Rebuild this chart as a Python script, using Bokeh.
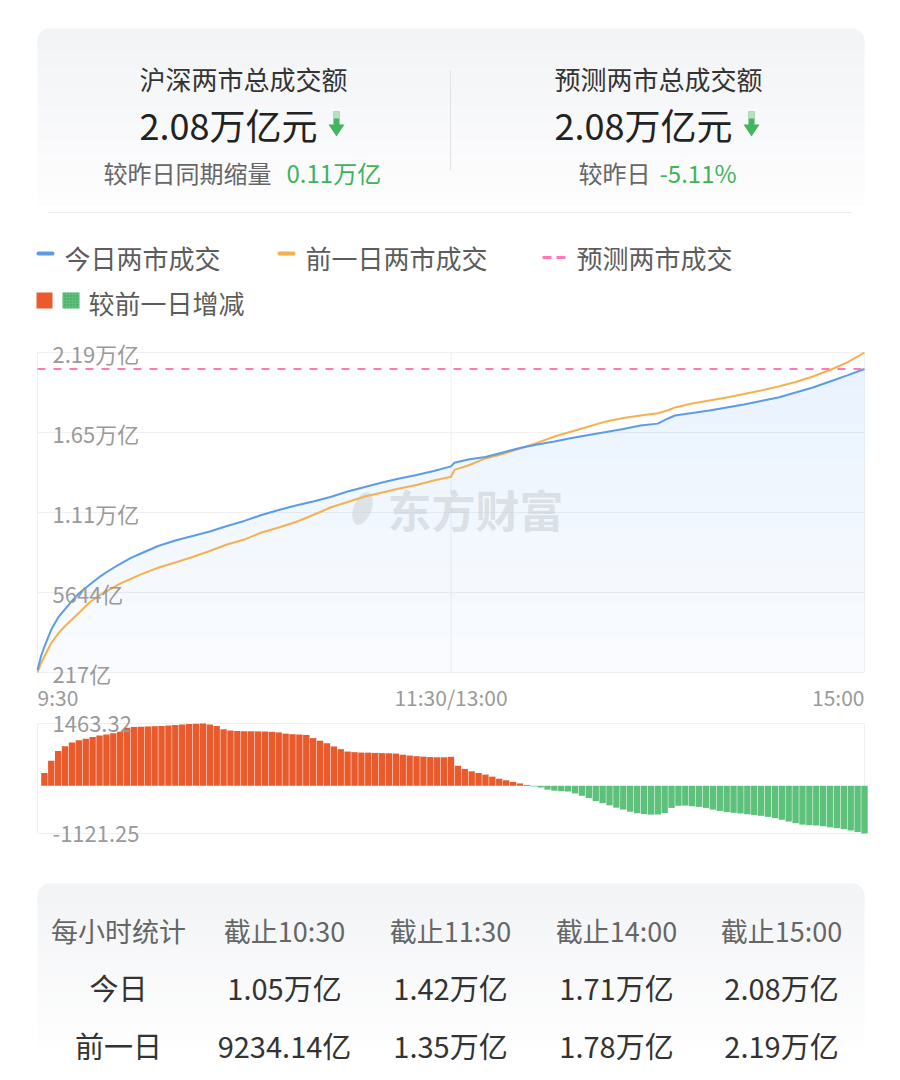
import numpy as np
from bokeh.plotting import figure
from bokeh.models import Range1d, BoxAnnotation
from bokeh.layouts import column
from bokeh.core.properties import value
from bokeh.embed import file_html
from bokeh.resources import INLINE

FONT = "Noto Sans CJK SC"
W = 900

# ---------------- data ----------------
summary_titles = ["沪深两市总成交额", "预测两市总成交额"]
summary_values = ["2.08万亿元", "2.08万亿元"]
summary_labels = ["较昨日同期缩量", "较昨日"]
summary_changes = ["0.11万亿", "-5.11%"]

legend_labels = ["今日两市成交", "前一日两市成交", "预测两市成交", "较前一日增减"]

time_ticks = [0, 120, 240]
time_labels = ["9:30", "11:30/13:00", "15:00"]
y_ticks = [217, 5644, 11071, 16498, 21925]
y_labels = ["217亿", "5644亿", "1.11万亿", "1.65万亿", "2.19万亿"]
forecast = 20800

line_t = [0, 1, 2, 4, 6, 8, 10, 12, 15, 18, 21, 24, 27, 30, 35, 40, 45, 50, 55, 60,
          65, 70, 75, 80, 85, 90, 95, 100, 105, 110, 115, 120, 121, 125, 130, 135, 140,
          145, 150, 155, 160, 165, 170, 175, 180, 183, 185, 190, 195, 200, 205, 210,
          215, 220, 225, 230, 235, 240]
today = [390, 1300, 1980, 3130, 3950, 4520, 5070, 5580, 6150, 6700, 7170, 7580, 7980,
         8290, 8800, 9170, 9480, 9780, 10160, 10500, 10900, 11240, 11550, 11820, 12120,
         12500, 12800, 13110, 13380, 13620, 13890, 14200, 14450, 14670, 14840, 15140,
         15450, 15690, 15890, 16130, 16330, 16530, 16740, 16970, 17100, 17450, 17650,
         17820, 17990, 18200, 18400, 18640, 18870, 19210, 19550, 19960, 20370, 20804]
prev = [217, 830, 1300, 2220, 2860, 3370, 3810, 4250, 4950, 5450, 5860, 6240, 6560,
        6870, 7320, 7680, 8050, 8460, 8900, 9234, 9715, 10050, 10430, 10900, 11410,
        11780, 12160, 12430, 12700, 12940, 13240, 13500, 13960, 14260, 14740, 15040,
        15410, 15790, 16230, 16570, 16910, 17250, 17480, 17650, 17800, 18010, 18200,
        18470, 18670, 18870, 19110, 19350, 19620, 19920, 20300, 20740, 21250, 21925]

bar_t = list(range(0, 241, 2))
bar_diff = [0, 300, 590, 820, 930, 1015, 1070, 1105, 1145, 1180,
            1205, 1235, 1270, 1365, 1380, 1388, 1392, 1398, 1405, 1418,
            1428, 1440, 1450, 1460, 1463.32, 1440, 1405, 1330, 1300, 1285,
            1282, 1280, 1278, 1276, 1268, 1255, 1225, 1212, 1205, 1195,
            1120, 1060, 1000, 925, 860, 805, 790, 780, 778, 772,
            768, 764, 758, 730, 710, 695, 685, 675, 670, 670,
            680, 470, 395, 340, 300, 262, 215, 165, 130, 90,
            55, 20, -15, -40, -90, -115, -128, -135, -180, -235,
            -290, -360, -410, -460, -515, -560, -610, -645, -665, -678,
            -675, -640, -520, -470, -465, -480, -495, -520, -560, -590,
            -615, -635, -650, -670, -685, -705, -730, -760, -800, -840,
            -880, -912, -925, -932, -950, -975, -995, -1020, -1050, -1085,
            -1121.25]
bar_ticks = [1463.32, -1121.25]
bar_labels = ["1463.32", "-1121.25"]

table_header = ["每小时统计", "截止10:30", "截止11:30", "截止14:00", "截止15:00"]
table_today = ["今日", "1.05万亿", "1.42万亿", "1.71万亿", "2.08万亿"]
table_prev = ["前一日", "9234.14亿", "1.35万亿", "1.78万亿", "2.19万亿"]

# ---------------- style ----------------
BLUE = "#5b9be8"
ORANGE = "#f7b04f"
PINK = "#ff78b8"
RED = "#e95b2c"
GREEN = "#5dc17c"
TXT_GREEN = "#3fb35c"
GRID = "#f0f0f0"
AXIS_TXT = "#9a9a9a"


def hex2rgb(h):
    h = h.lstrip("#")
    return tuple(int(h[i:i + 2], 16) for i in (0, 2, 4))


def mix(c0, c1, f):
    a, b = hex2rgb(c0), hex2rgb(c1)
    return "#%02x%02x%02x" % tuple(int(round(a[i] + (b[i] - a[i]) * f)) for i in range(3))


def page_fig(top, bottom):
    return figure(width=W, height=bottom - top, x_range=Range1d(0, W),
                  y_range=Range1d(bottom, top), toolbar_location=None,
                  output_backend="svg", x_axis_type=None, y_axis_type=None,
                  min_border=0, outline_line_color=None)


def txt(p, x, y, s, size, color, align="left", bold=False, alpha=1.0):
    p.text(x=[x], y=[y], text=[s], text_font=value(FONT), text_font_size=f"{size}px",
           text_color=color, text_align=align, text_baseline="middle",
           text_font_style="bold" if bold else "normal", text_alpha=alpha)


def card(p, x0, x1, y0, y1, c0, c1, grad_end, n=30):
    p.add_layout(BoxAnnotation(left=x0, right=x1, top=y0, bottom=y0 + 30,
                               fill_color=c0, fill_alpha=1, line_color=None,
                               border_radius=12, level="underlay"))
    ys = np.linspace(y0 + 12, grad_end, n + 1)
    tops = ys[:-1]
    bots = ys[1:] + 0.6
    cols = [mix(c0, c1, i / (n - 1)) for i in range(n)]
    p.quad(left=[x0] * n, right=[x1] * n, top=tops, bottom=bots, fill_color=cols,
           line_color=None)
    if y1 > grad_end:
        p.quad(left=[x0], right=[x1], top=[grad_end], bottom=[y1], fill_color=c1,
               line_color=None)


def arrow(p, cx, cy):
    xs = [cx - 3, cx + 3, cx + 3, cx + 8, cx, cx - 8, cx - 3]
    ys = [cy - 12, cy - 12, cy + 1, cy + 1, cy + 13, cy + 1, cy + 1]
    p.patch(xs, ys, fill_color="#43b462", line_color=None)
    p.patch([cx - 3, cx + 3, cx + 3, cx - 3], [cy - 12, cy - 12, cy - 5, cy - 5],
            fill_color="#b5e3c2", line_color=None)


# ---------------- header + legend ----------------
TOP_B = 330
TOP_D = 862
H = 1080

fa = page_fig(0, TOP_B)
card(fa, 37, 864, 28, 205, "#f3f4f6", "#fdfdfe", 205)
fa.segment(x0=[450], x1=[450], y0=[70], y1=[170], line_color="#e2e2e2", line_width=1)
fa.segment(x0=[48], x1=[852], y0=[212], y1=[212], line_color="#eeeeee", line_width=1)

centers = [243, 658]
num_centers = [228, 643]
arrow_x = [336, 751]
lab_x = [103, 578]
chg_x = [286, 659]
for i in range(2):
    txt(fa, centers[i], 78, summary_titles[i], 26, "#333333", "center")
    txt(fa, num_centers[i], 123, summary_values[i], 36, "#222222", "center")
    arrow(fa, arrow_x[i], 123)
    txt(fa, lab_x[i], 172, summary_labels[i], 24, "#666666")
    txt(fa, chg_x[i], 172, summary_changes[i], 24, TXT_GREEN)

# legend
fa.segment(x0=[38], x1=[52], y0=[253], y1=[253], line_color=BLUE, line_width=4,
           line_cap="round")
txt(fa, 64, 257, legend_labels[0], 26, "#5c5c5c")
fa.segment(x0=[279], x1=[293], y0=[253], y1=[253], line_color=ORANGE, line_width=4,
           line_cap="round")
txt(fa, 305, 257, legend_labels[1], 26, "#5c5c5c")
fa.segment(x0=[542], x1=[566], y0=[257], y1=[257], line_color=PINK, line_width=3,
           line_dash="9 5")
txt(fa, 576, 257, legend_labels[2], 26, "#5c5c5c")
fa.quad(left=[36], right=[52], top=[292], bottom=[308], fill_color=RED, line_color=None)
fa.quad(left=[62], right=[79], top=[292], bottom=[308], fill_color=GREEN,
        line_color=None, hatch_pattern="dot", hatch_color="#2f7a47", hatch_scale=3,
        hatch_alpha=0.6)
txt(fa, 88, 302, legend_labels[3], 26, "#5c5c5c")

# ---------------- main chart + bar chart (one frame, two y ranges) ----------------
PPM = (864 - 37) / 240.0
x_lo = -37 / PPM
x_hi = 240 + (W - 864) / PPM
VPP = (y_ticks[-1] - y_ticks[0]) / (672 - 352)
y_hi = y_ticks[-1] + (352 - TOP_B) * VPP
y_lo = y_ticks[0] - (TOP_D - 672) * VPP

BVPP = (bar_ticks[0] - bar_ticks[1]) / (833 - 723)
by_hi = bar_ticks[0] + (723 - TOP_B) * BVPP
by_lo = bar_ticks[1] - (TOP_D - 833) * BVPP

fb = figure(width=W, height=TOP_D - TOP_B, x_range=Range1d(x_lo, x_hi),
            y_range=Range1d(y_lo, y_hi), toolbar_location=None, output_backend="svg",
            x_axis_type=None, y_axis_type=None, min_border=0, outline_line_color=None)
fb.extra_y_ranges = {"bar": Range1d(by_lo, by_hi)}

n_y = len(y_ticks)
fb.segment(x0=[time_ticks[0]] * n_y, x1=[time_ticks[-1]] * n_y, y0=y_ticks, y1=y_ticks,
           line_color=GRID, line_width=1)
fb.segment(x0=time_ticks, x1=time_ticks, y0=[y_ticks[0]] * 3, y1=[y_ticks[-1]] * 3,
           line_color=GRID, line_width=1)

t_arr = np.array(line_t, dtype=float)
today_arr = np.array(today, dtype=float)
base = np.full(len(t_arr), float(y_ticks[0]))
fb.varea(x=t_arr, y1=base, y2=today_arr, fill_color=BLUE, fill_alpha=0.035)
for L in np.linspace(y_ticks[0], y_ticks[-1], 10)[1:-1]:
    fb.varea(x=t_arr, y1=np.full(len(t_arr), L), y2=np.maximum(today_arr, L),
             fill_color=BLUE, fill_alpha=0.013)

# watermark
wm_t = (475 - 37) / PPM
wm_v = y_ticks[0] + (672 - 508) * VPP
fb.text(x=[wm_t], y=[wm_v], text=["东方财富"], text_font=value(FONT),
        text_font_size="44px", text_font_style="bold", text_color="#c9ccd2",
        text_alpha=0.55, text_align="center", text_baseline="middle")
fb.ellipse(x=[(362 - 37) / PPM], y=[wm_v], width=18 / PPM, height=34 * VPP,
           angle=-0.35, fill_color="#c9ccd2", fill_alpha=0.5, line_color=None)

fb.line(line_t, prev, line_color=ORANGE, line_width=2)
fb.line(line_t, today, line_color=BLUE, line_width=2)
fb.line([time_ticks[0], time_ticks[-1]], [forecast, forecast], line_color=PINK,
        line_width=2, line_dash="8 8")

lbl_x = (52 - 37) / PPM
fb.text(x=[lbl_x] * n_y, y=y_ticks, text=y_labels, text_font=value(FONT),
        text_font_size="22px", text_color=AXIS_TXT, text_align="left",
        text_baseline="middle")
xl_y = y_ticks[0] - (696 - 672) * VPP
aligns = ["left", "center", "right"]
for tk, lb, al in zip(time_ticks, time_labels, aligns):
    fb.text(x=[tk], y=[xl_y], text=[lb], text_font=value(FONT), text_font_size="21px",
            text_color=AXIS_TXT, text_align=al, text_baseline="middle")

# bars on their own y range
fb.segment(x0=[time_ticks[0]] * 2, x1=[time_ticks[-1]] * 2, y0=bar_ticks, y1=bar_ticks,
           line_color=GRID, line_width=1, y_range_name="bar")
fb.segment(x0=[time_ticks[0], time_ticks[-1]], x1=[time_ticks[0], time_ticks[-1]],
           y0=[bar_ticks[1]] * 2, y1=[bar_ticks[0]] * 2, line_color=GRID, line_width=1,
           y_range_name="bar")
bar_cols = [RED if v >= 0 else GREEN for v in bar_diff]
fb.vbar(x=bar_t, top=bar_diff, bottom=0, width=1.85, fill_color=bar_cols,
        line_color=None, y_range_name="bar")
fb.text(x=[lbl_x] * 2, y=bar_ticks, text=bar_labels, text_font=value(FONT),
        text_font_size="22px", text_color=AXIS_TXT, text_align="left",
        text_baseline="middle", y_range_name="bar")

# ---------------- table ----------------
fd = page_fig(TOP_D, H)
card(fd, 37, 864, 883, H, "#f3f4f6", "#ffffff", 1060)
col_x = [118, 284, 450, 616, 781]
for cx, s in zip(col_x, table_header):
    txt(fd, cx, 930, s, 27, "#666666", "center")
for cx, s in zip(col_x, table_today):
    txt(fd, cx, 986, s, 29, "#333333", "center")
for cx, s in zip(col_x, table_prev):
    txt(fd, cx, 1044, s, 29, "#333333", "center")

layout = column(fa, fb, fd)
open("out.html", "w").write(file_html(layout, INLINE))
